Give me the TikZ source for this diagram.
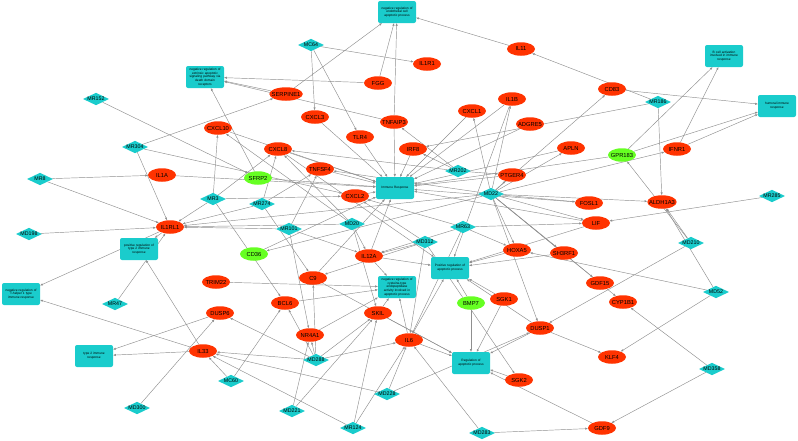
\documentclass[tikz,border=0pt]{standalone}
\usepackage{fontspec}
\setmainfont{Liberation Sans}
\usetikzlibrary{shapes.geometric,arrows.meta,backgrounds}

\begin{document}
\begin{tikzpicture}[x=1pt,y=-1pt,
  gene/.style={ellipse, fill=colGene, minimum width=28pt, minimum height=13.5pt, inner xsep=-2.5pt, inner ysep=0pt, font=\fontsize{5.8}{6.5}\selectfont},
  geneG/.style={gene, fill=colVerde},
  mirna/.style={diamond, fill=colMir, aspect=2.1, minimum width=26pt, minimum height=12.5pt, inner sep=-0.3pt, font=\fontsize{5.3}{6}\selectfont},
  proc/.style={rectangle, rounded corners=2pt, fill=colMir, minimum width=38pt, minimum height=22pt, text width=37pt, align=center, inner sep=0.3pt, font=\fontsize{3.2}{3.8}\selectfont},
  conn/.style={draw=lineGray, line width=0.45pt, -{Triangle[length=2.6pt,width=2pt]}}
]

% Colori
\definecolor{colGene}{HTML}{FF3300}
\definecolor{colVerde}{HTML}{66FF22}
\definecolor{colMir}{HTML}{1ACCCC}
\definecolor{lineGray}{HTML}{8F8F8F}

\useasboundingbox (0,0) rectangle (798,440);

% Processi
\node[proc] (pEndo) at (397,12) {negative regulation of\\endothelial cell\\apoptotic process};
\node[proc] (pExtr) at (205,77) {negative regulation of\\extrinsic apoptotic\\signaling pathway via\\death domain\\receptors};
\node[proc] (pBcell) at (724,56) {B cell activation\\involved in immune\\response};
\node[proc] (pHum) at (777,106) {humoral immune\\response};
\node[proc] (pImm) at (395,188) {Immune Response};
\node[proc] (pTipo2Pos) at (139,249) {positive regulation of\\type 2 immune\\response};
\node[proc] (pTh1) at (21,294) {negative regulation of\\T-helper 1 type\\immune response};
\node[proc] (pApoPos) at (450,268) {Positive regulation of\\apoptotic process};
\node[proc] (pCist) at (397,287) {negative regulation of\\cysteine-type\\endopeptidase\\activity involved in\\apoptotic process};
\node[proc] (pTipo2) at (94,356) {type 2 immune\\response};
\node[proc] (pApoReg) at (471,363) {Regulation of\\apoptotic process};

% Geni
\node[gene] (SERPINE1) at (286,94) {SERPINE1};
\node[gene] (FGG) at (378,83) {FGG};
\node[gene] (IL1R1) at (427,64) {IL1R1};
\node[gene] (IL11) at (521,49) {IL11};
\node[gene] (CD83) at (612,89) {CD83};
\node[gene] (CXCL3) at (315,117) {CXCL3};
\node[gene] (CXCL10) at (218,128) {CXCL10};
\node[gene] (TLR4) at (360,137) {TLR4};
\node[gene] (TNFAIP3) at (394,122) {TNFAIP3};
\node[gene] (CXCL1) at (472,111) {CXCL1};
\node[gene] (IL1B) at (512,99) {IL1B};
\node[gene] (ADGRE5) at (530,124) {ADGRE5};
\node[gene] (APLN) at (571,148) {APLN};
\node[gene] (IRF8) at (413,149) {IRF8};
\node[gene] (CXCL8) at (278,149) {CXCL8};
\node[gene] (TNFSF4) at (320,169) {TNFSF4};
\node[gene] (IL1A) at (162,175) {IL1A};
\node[gene] (CXCL2) at (355,196) {CXCL2};
\node[gene] (PTGER4) at (512,175) {PTGER4};
\node[gene] (FOSL1) at (589,203) {FOSL1};
\node[gene] (IFNR1) at (677,149) {IFNR1};
\node[gene] (ALDH1A3) at (662,202) {ALDH1A3};
\node[gene] (LIF) at (596,223) {LIF};
\node[gene] (IL1RL1) at (170,227) {IL1RL1};
\node[gene] (IL12A) at (369,256) {IL12A};
\node[gene] (HOXA5) at (517,250) {HOXA5};
\node[gene] (SH3RF1) at (564,253) {SH3RF1};
\node[gene] (TRIM22) at (216,282) {TRIM22};
\node[gene] (C9) at (313,278) {C9};
\node[gene] (GDF15) at (600,283) {GDF15};
\node[gene] (CYP1B1) at (623,302) {CYP1B1};
\node[gene] (BCL6) at (285,303) {BCL6};
\node[gene] (DUSP6) at (220,313) {DUSP6};
\node[gene] (SKIL) at (378,313) {SKIL};
\node[gene] (NR4A1) at (310,335) {NR4A1};
\node[gene] (IL33) at (203,351) {IL33};
\node[gene] (IL6) at (409,340) {IL6};
\node[gene] (SGK1) at (504,299) {SGK1};
\node[gene] (DUSP1) at (540,328) {DUSP1};
\node[gene] (SGK2) at (519,380) {SGK2};
\node[gene] (KLF4) at (612,357) {KLF4};
\node[gene] (GDF9) at (602,428) {GDF9};
\node[geneG] (SFRP2) at (258,178) {SFRP2};
\node[geneG] (CD36) at (254,254) {CD36};
\node[geneG] (GPR183) at (622,155) {GPR183};
\node[geneG] (BMP7) at (471,303) {BMP7};

% miRNA
\node[mirna] (MR152) at (96,99) {MR152};
\node[mirna] (MR304) at (135,147) {MR304};
\node[mirna] (MR8) at (40,179) {MR8};
\node[mirna] (MD198) at (29,234) {MD198};
\node[mirna] (MC64) at (311,45) {MC64};
\node[mirna] (MR186) at (658,102) {MR186};
\node[mirna] (MR3) at (213,199) {MR3};
\node[mirna] (MR274) at (262,204) {MR274};
\node[mirna] (MR101) at (289,229) {MR101};
\node[mirna] (MD20) at (352,224) {MD20};
\node[mirna] (MR202) at (458,171) {MR202};
\node[mirna] (MD22) at (491,194) {MD22};
\node[mirna] (MR63) at (463,227) {MR63};
\node[mirna] (MD312) at (425,242) {MD312};
\node[mirna] (MR285) at (772,196) {MR285};
\node[mirna] (MD210) at (691,243) {MD210};
\node[mirna] (MD52) at (716,292) {MD52};
\node[mirna] (MD358) at (712,369) {MD358};
\node[mirna] (MR47) at (115,304) {MR47};
\node[mirna] (MD300) at (137,408) {MD300};
\node[mirna] (MC60) at (231,381) {MC60};
\node[mirna] (MD288) at (316,360) {MD288};
\node[mirna] (MD221) at (292,411) {MD221};
\node[mirna] (MR124) at (353,428) {MR124};
\node[mirna] (MD228) at (387,394) {MD228};
\node[mirna] (MD283) at (482,433) {MD283};

% Collegamenti
\begin{scope}[on background layer]
% geni -> processi
\path (SERPINE1) edge[conn] (pExtr) edge[conn] (pEndo);
\path (FGG) edge[conn] (pExtr) edge[conn] (pEndo);
\path (TNFAIP3) edge[conn] (pExtr) edge[conn] (pEndo) edge[conn] (pImm);
\path (IL11) edge[conn] (pEndo);
\path (SFRP2) edge[conn] (pExtr) edge[conn] (pImm);
\path (CXCL10) edge[conn] (pImm);
\path (CXCL8) edge[conn] (pImm) edge[conn] (pApoPos);
\path (CXCL3) edge[conn] (pImm);
\path (TLR4) edge[conn] (pImm);
\path (IRF8) edge[conn] (pImm);
\path (TNFSF4) edge[conn] (pImm);
\path (CXCL2) edge[conn] (pImm);
\path (IL1A) edge[conn] (pImm);
\path (IL1B) edge[conn] (pImm) edge[conn] (pApoPos);
\path (CXCL1) edge[conn] (pImm);
\path (ADGRE5) edge[conn] (pImm);
\path (PTGER4) edge[conn] (pImm);
\path (APLN) edge[conn] (pImm);
\path (FOSL1) edge[conn] (pImm);
\path (LIF) edge[conn] (pImm) edge[conn] (pApoPos);
\path (IL12A) edge[conn] (pImm) edge[conn] (pApoPos) edge[conn] (pCist);
\path (CD36) edge[conn] (pImm);
\path (C9) edge[conn] (pImm) edge[conn] (pApoReg);
\path (GPR183) edge[conn] (pImm) edge[conn] (pBcell) edge[conn] (pHum);
\path (IFNR1) edge[conn] (pBcell) edge[conn] (pHum);
\path (CD83) edge[conn] (pHum);
\path (IL1RL1) edge[conn] (pTipo2Pos) edge[conn] (pTh1);
\path (IL33) edge[conn] (pTipo2Pos) edge[conn] (pTh1) edge[conn] (pTipo2);
\path (DUSP6) edge[conn] (pTipo2);
\path (HOXA5) edge[conn] (pApoPos);
\path (SH3RF1) edge[conn] (pApoPos);
\path (IL6) edge[conn] (pApoPos) edge[conn] (pCist) edge[conn] (pApoReg);
\path (BMP7) edge[conn] (pApoPos) edge[conn] (pApoReg);
\path (SGK1) edge[conn] (pApoPos) edge[conn] (pApoReg);
\path (DUSP1) edge[conn] (pApoPos) edge[conn] (pApoReg) edge[conn] (KLF4);
\path (SGK2) edge[conn] (pApoReg);
\path (GDF9) edge[conn] (pApoReg);
\path (SKIL) edge[conn] (pCist) edge[conn] (pApoReg);
\path (BCL6) edge[conn] (pCist);
\path (NR4A1) edge[conn] (pCist);
\path (TRIM22) edge[conn] (pCist);
% miRNA -> geni
\path (MR152) edge[conn] (SFRP2);
\path (MR304) edge[conn] (IL1RL1) edge[conn] (SERPINE1) edge[conn] (CXCL2);
\path (MR8) edge[conn] (IL1A) edge[conn] (IL1RL1);
\path (MD198) edge[conn] (IL1RL1);
\path (MC64) edge[conn] (CXCL3) edge[conn] (TLR4) edge[conn] (IL1R1);
\path (MR186) edge[conn] (IL11) edge[conn] (IRF8) edge[conn] (ALDH1A3);
\path (MR3) edge[conn] (IL1RL1) edge[conn] (CXCL2) edge[conn] (CXCL10) edge[conn] (CXCL8) edge[conn] (BCL6);
\path (MR274) edge[conn] (IL1RL1) edge[conn] (CXCL8) edge[conn] (TNFSF4) edge[conn] (C9);
\path (MR101) edge[conn] (IL1RL1) edge[conn] (TNFSF4) edge[conn] (IL12A) edge[conn] (NR4A1);
\path (MD20) edge[conn] (IL1RL1) edge[conn] (CXCL8) edge[conn] (CXCL10) edge[conn] (IL12A) edge[conn] (SKIL);
\path (MR202) edge[conn] (IRF8) edge[conn] (PTGER4) edge[conn] (TNFAIP3) edge[conn] (CXCL8);
\path (MD22) edge[conn] (PTGER4) edge[conn] (FOSL1) edge[conn] (LIF) edge[conn] (SH3RF1) edge[conn] (HOXA5) edge[conn] (GDF15) edge[conn] (CYP1B1) edge[conn] (IFNR1);
\path (MD22) edge[conn] (CD83) edge[conn] (ALDH1A3) edge[conn] (DUSP1) edge[conn] (APLN) edge[conn] (IL1B) edge[conn] (CXCL1) edge[conn] (TNFSF4) edge[conn] (IL1RL1) edge[conn] (CD36);
\path (MR63) edge[conn] (LIF) edge[conn] (HOXA5) edge[conn] (IL12A) edge[conn] (CXCL2) edge[conn] (IL6);
\path (MD312) edge[conn] (SGK2) edge[conn] (IL6) edge[conn] (IL12A) edge[conn] (CXCL2) edge[conn] (C9);
\path (MR47) edge[conn] (IL1RL1);
\path (MD300) edge[conn] (DUSP6);
\path (MC60) edge[conn] (IL33) edge[conn] (BCL6);
\path (MD288) edge[conn] (DUSP6) edge[conn] (BCL6) edge[conn] (NR4A1) edge[conn] (SKIL) edge[conn] (IL33) edge[conn] (IL6) edge[conn] (C9);
\path (MD221) edge[conn] (NR4A1) edge[conn] (SKIL);
\path (MR124) edge[conn] (IL33) edge[conn] (SKIL) edge[conn] (IL6);
\path (MD228) edge[conn] (IL33) edge[conn] (DUSP1) edge[conn] (IL6);
\path (MD283) edge[conn] (IL6) edge[conn] (GDF9);
\path (MD358) edge[conn] (CYP1B1) edge[conn] (GDF9);
\path (MD52) edge[conn] (ALDH1A3) edge[conn] (KLF4) edge[conn] (HOXA5);
\path (MD210) edge[conn] (ALDH1A3) edge[conn] (DUSP1) edge[conn] (GPR183);
\path (MR285) edge[conn] (LIF);
\end{scope}

\end{tikzpicture}
\end{document}
